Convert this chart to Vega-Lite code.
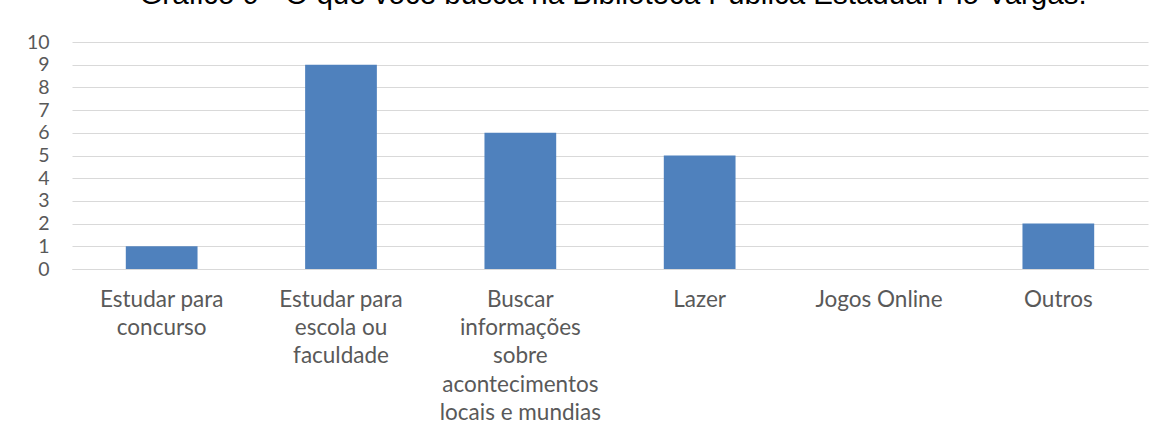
{
  "$schema": "https://vega.github.io/schema/vega-lite/v6.json",
  "autosize": {"type": "none"},
  "padding": {"left": 72, "top": 42, "right": 17, "bottom": 172},
  "width": 1076,
  "height": 227,
  "background": "white",
  "title": {
    "text": "Gráfico 9 - O que você busca na Biblioteca Pública Estadual Pio Vargas.",
    "font": "Liberation Sans",
    "fontSize": 29.5,
    "fontWeight": "normal",
    "color": "#000000",
    "anchor": "middle",
    "baseline": "alphabetic",
    "offset": 0,
    "dy": 1.5,
    "dx": 3
  },
  "data": {
    "values": [
      {"categoria": "Estudar para concurso", "valor": 1},
      {"categoria": "Estudar para escola ou faculdade", "valor": 9},
      {"categoria": "Buscar informações sobre acontecimentos locais e mundias", "valor": 6},
      {"categoria": "Lazer", "valor": 5},
      {"categoria": "Jogos Online", "valor": 0},
      {"categoria": "Outros", "valor": 2}
    ]
  },
  "mark": {"type": "bar", "color": "#4F81BD"},
  "encoding": {
    "x": {
      "field": "categoria",
      "type": "nominal",
      "sort": null,
      "scale": {"paddingInner": 0.6, "paddingOuter": 0.3},
      "axis": {
        "title": null,
        "labelAngle": 0,
        "labelFont": "Lato",
        "labelFontSize": 22.5,
        "labelColor": "#595959",
        "labelPadding": 19,
        "labelLineHeight": 28.4,
        "labelBaseline": "top",
        "labelLimit": 0,
        "ticks": false,
        "domainColor": "#D9D9D9",
        "domainWidth": 1,
        "labelExpr": "datum.label == 'Estudar para concurso' ? ['Estudar para', 'concurso'] : datum.label == 'Estudar para escola ou faculdade' ? ['Estudar para', 'escola ou', 'faculdade'] : datum.label == 'Buscar informações sobre acontecimentos locais e mundias' ? ['Buscar', 'informações', 'sobre', 'acontecimentos', 'locais e mundias'] : datum.label"
      }
    },
    "y": {
      "field": "valor",
      "type": "quantitative",
      "scale": {"domain": [0, 10], "nice": false},
      "axis": {
        "title": null,
        "values": [0, 1, 2, 3, 4, 5, 6, 7, 8, 9, 10],
        "labelOverlap": false,
        "labelFont": "Lato",
        "labelFontSize": 19.5,
        "labelColor": "#595959",
        "labelPadding": 23,
        "ticks": false,
        "domain": false,
        "gridColor": "#D9D9D9",
        "gridWidth": 1
      }
    }
  },
  "config": {"view": {"stroke": null}}
}
